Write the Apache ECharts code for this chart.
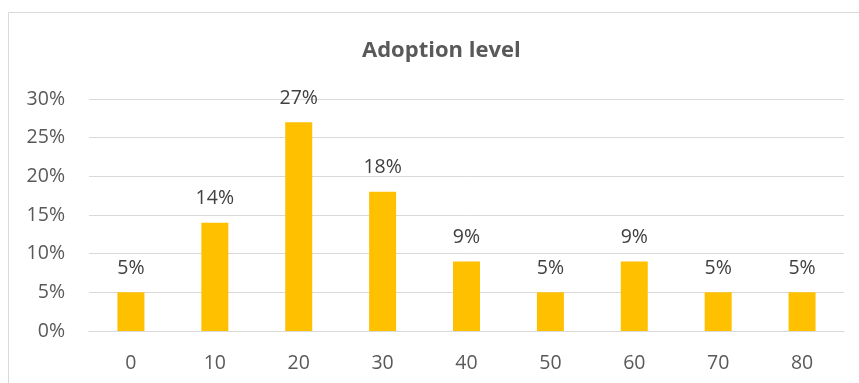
<!DOCTYPE html>
<html>
<head>
<meta charset="utf-8">
<script src="https://cdn.jsdelivr.net/npm/echarts@6/dist/echarts.min.js"></script>
<style>
  html, body { margin: 0; padding: 0; background: #fff; }
  #chart { width: 859px; height: 383px; }
</style>
</head>
<body>
<div id="chart"></div>
<script>
// adoption level buckets and the share of each
const categories = ['0', '10', '20', '30', '40', '50', '60', '70', '80']
const shares = [5, 14, 27, 18, 9, 5, 9, 5, 5]
const yTicks = [0, 5, 10, 15, 20, 25, 30]

const chart = echarts.init(document.getElementById('chart'))
const font = '"Open Sans", "Noto Sans", sans-serif'

const option = {
  animation: false,
  graphic: [{
    type: 'rect',
    shape: { x: 8.5, y: 12.5, width: 900, height: 420 },
    style: { fill: 'none', stroke: '#d9d9d9', lineWidth: 1 }
  }],
  title: {
    text: 'Adoption level',
    left: 357,
    top: 35,
    textStyle: { fontFamily: font, fontSize: 22, fontWeight: 'bold', color: '#595959' }
  },
  grid: { left: 89, right: 15, top: 99, bottom: 52, containLabel: false },
  xAxis: {
    type: 'category',
    data: categories,
    axisTick: { show: false },
    axisLine: { lineStyle: { color: '#d9d9d9', width: 1 } },
    axisLabel: { margin: 22, fontFamily: font, fontSize: 19.5, color: '#595959' }
  },
  yAxis: {
    type: 'value',
    min: yTicks[0],
    max: yTicks[yTicks.length - 1],
    interval: 5,
    axisLine: { show: false },
    axisTick: { show: false },
    splitLine: { lineStyle: { color: '#d9d9d9', width: 1 } },
    axisLabel: {
      margin: 24,
      fontFamily: font, fontSize: 19.5, color: '#595959',
      formatter: v => v + '%'
    }
  },
  series: [{
    type: 'bar',
    data: shares,
    barWidth: 27,
    itemStyle: { color: '#ffc000' },
    label: {
      show: true,
      position: 'top',
      distance: 14,
      fontFamily: font, fontSize: 19.5, color: '#404040',
      formatter: p => p.value + '%'
    }
  }]
}

chart.setOption(option)
</script>
</body>
</html>
